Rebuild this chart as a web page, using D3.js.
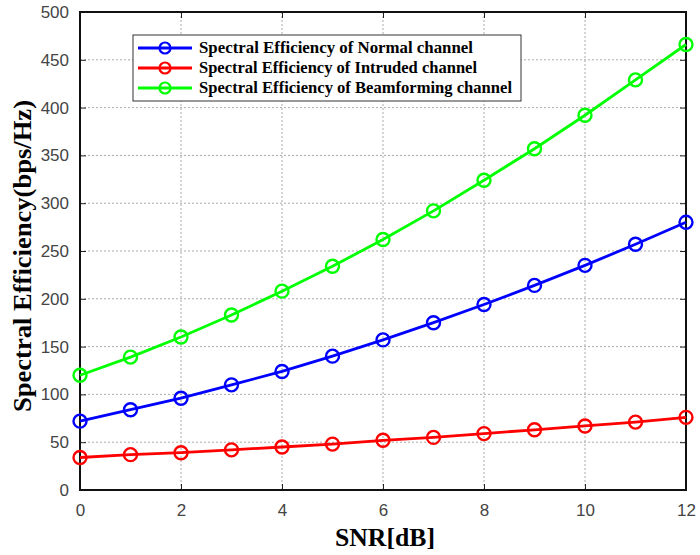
<!DOCTYPE html>
<html><head><meta charset="utf-8">
<script src="https://cdn.jsdelivr.net/npm/d3@7"></script>
<style>body{margin:0;background:#fff}svg{display:block}</style>
</head><body>
<svg id="c" width="700" height="555"></svg>
<script>
const snr = [0,1,2,3,4,5,6,7,8,9,10,11,12];
const normal = [72,84,96,110,124,140,157,175,194,214,235,257,280];
const intruded = [34,37,39,42,45,48,52,55,59,63,67,71,76];
const beamforming = [120,139,160,183,208,234,262,292,324,357,392,429,466];
const xTicks = [0,2,4,6,8,10,12];
const yTicks = [0,50,100,150,200,250,300,350,400,450,500];
const seriesNames = ["Spectral Efficiency of Normal channel","Spectral Efficiency of Intruded channel","Spectral Efficiency of Beamforming channel"];
const seriesColors = ["#0000ff","#ff0000","#00ff00"];
const seriesData = [normal, intruded, beamforming];

const svg = d3.select("#c");
const L=80,R=686,T=12,B=490;
const x = d3.scaleLinear().domain([0,12]).range([L,R]);
const y = d3.scaleLinear().domain([0,500]).range([B,T]);

// grid
const g = svg.append("g");
g.selectAll(".gx").data(xTicks.slice(1,-1)).join("line")
 .attr("x1",d=>x(d)).attr("x2",d=>x(d)).attr("y1",T).attr("y2",B)
 .attr("stroke","#aaa").attr("stroke-width",1).attr("stroke-dasharray","2,2");
g.selectAll(".gy").data(yTicks.slice(1,-1)).join("line")
 .attr("y1",d=>y(d)).attr("y2",d=>y(d)).attr("x1",L).attr("x2",R)
 .attr("stroke","#aaa").attr("stroke-width",1).attr("stroke-dasharray","2,2");

// axes
const ax = svg.append("g").attr("transform",`translate(0,${B})`)
 .call(d3.axisBottom(x).tickValues(xTicks).tickSize(-6).tickPadding(14).tickFormat(d3.format("d")));
const ay = svg.append("g").attr("transform",`translate(${L},0)`)
 .call(d3.axisLeft(y).tickValues(yTicks).tickSize(-6).tickPadding(11).tickFormat(d3.format("d")));
const at = svg.append("g").attr("transform",`translate(0,${T})`)
 .call(d3.axisTop(x).tickValues(xTicks).tickSize(-6).tickFormat(""));
const ar = svg.append("g").attr("transform",`translate(${R},0)`)
 .call(d3.axisRight(y).tickValues(yTicks).tickSize(-6).tickFormat(""));
[ax,ay,at,ar].forEach(a=>{
  a.select(".domain").remove();
  a.selectAll(".tick line").attr("stroke","#222");
  a.selectAll("text").attr("font-family","Liberation Sans, Arial, sans-serif").attr("font-size",17).attr("fill","#444");
});
svg.append("rect").attr("x",L).attr("y",T).attr("width",R-L).attr("height",B-T)
 .attr("fill","none").attr("stroke","#111").attr("stroke-width",2);

// series
const line = d3.line().x((d,i)=>x(snr[i])).y(d=>y(d));
seriesData.forEach((s,k)=>{
  svg.append("path").datum(s).attr("d",line).attr("fill","none")
   .attr("stroke",seriesColors[k]).attr("stroke-width",2.8);
  svg.selectAll(null).data(s).join("circle")
   .attr("cx",(d,i)=>x(snr[i])).attr("cy",d=>y(d)).attr("r",6.5)
   .attr("fill","none").attr("stroke",seriesColors[k]).attr("stroke-width",2.4);
});

// legend
const lg = svg.append("g");
lg.append("rect").attr("x",133).attr("y",35).attr("width",388).attr("height",66)
 .attr("fill","#fff").attr("stroke","#333").attr("stroke-width",1);
const tl = [274,278,313];
seriesNames.forEach((n,k)=>{
  const yy = 48 + k*20;
  lg.append("line").attr("x1",138).attr("x2",192).attr("y1",yy).attr("y2",yy)
   .attr("stroke",seriesColors[k]).attr("stroke-width",2.8);
  lg.append("circle").attr("cx",165).attr("cy",yy).attr("r",5.5).attr("fill","none")
   .attr("stroke",seriesColors[k]).attr("stroke-width",2.2);
  lg.append("text").attr("x",199).attr("y",yy+5).text(n)
   .attr("font-family","Liberation Serif, Times New Roman, serif").attr("font-weight","bold")
   .attr("font-size",17).attr("textLength",tl[k]).attr("lengthAdjust","spacingAndGlyphs");
});

// titles
svg.append("text").attr("x",385).attr("y",546).attr("text-anchor","middle")
 .attr("font-family","Liberation Serif, Times New Roman, serif").attr("font-weight","bold")
 .attr("font-size",25).attr("textLength",100).attr("lengthAdjust","spacingAndGlyphs").text("SNR[dB]");
svg.append("text").attr("transform",`translate(31,256) rotate(-90)`).attr("text-anchor","middle")
 .attr("font-family","Liberation Serif, Times New Roman, serif").attr("font-weight","bold")
 .attr("font-size",25).attr("textLength",312).attr("lengthAdjust","spacingAndGlyphs").text("Spectral Efficiency(bps/Hz)");
</script>
</body></html>
